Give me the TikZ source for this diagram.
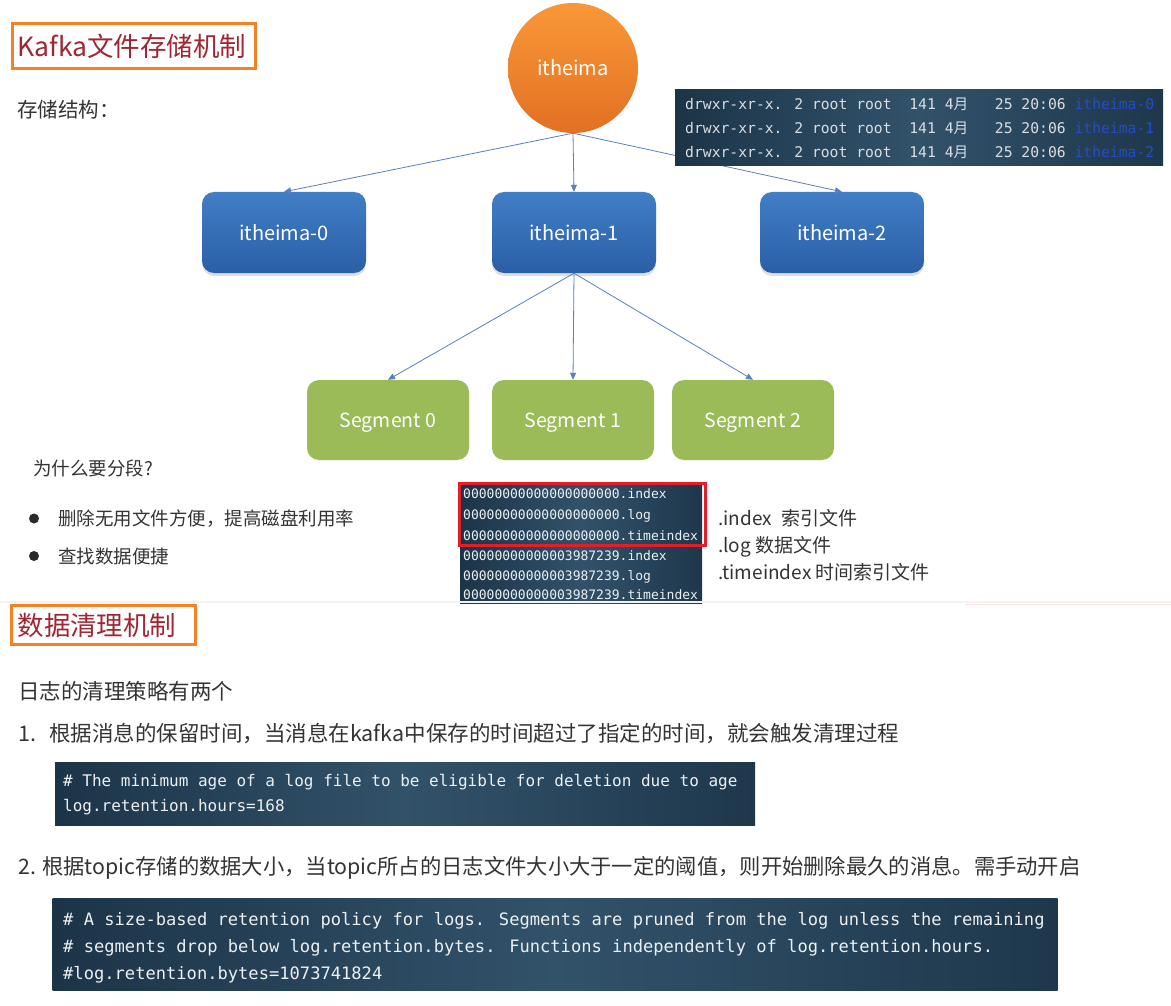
\documentclass[tikz,border=0pt]{standalone}
\usepackage{fontspec}
\setmainfont{Noto Sans CJK SC}
\newfontfamily\monofont{DejaVu Sans Mono}
\newfontfamily\cjk{Noto Sans CJK SC}
\usetikzlibrary{arrows.meta,shadows}
\definecolor{titlered}{RGB}{160,38,52}
\definecolor{titleorange}{RGB}{246,128,36}
\definecolor{bodytext}{RGB}{52,52,52}
\definecolor{circtop}{RGB}{249,152,56}
\definecolor{circbot}{RGB}{226,112,34}
\definecolor{bluetop}{RGB}{64,126,198}
\definecolor{bluebot}{RGB}{43,95,166}
\definecolor{segreen}{RGB}{155,187,89}
\definecolor{conncol}{RGB}{92,128,190}
\definecolor{paneldark}{RGB}{28,52,72}
\definecolor{panelmid}{RGB}{50,82,106}
\definecolor{termtext}{RGB}{218,222,226}
\definecolor{termblue}{RGB}{38,78,196}
\definecolor{codetext}{RGB}{236,240,242}
\definecolor{hlred}{RGB}{228,30,40}
\newcommand{\fsz}[1]{\fontsize{#1pt}{#1pt}\selectfont}
\begin{document}
\begin{tikzpicture}[x=1pt,y=-1pt,
  txt/.style={anchor=base west, inner sep=0pt, text=bodytext},
  mono/.style={anchor=base west, inner sep=0pt, font=\monofont},
  titlebox/.style={draw=titleorange, line width=3pt, fill=white, text=titlered, align=left, inner ysep=0pt},
  rootnode/.style={circle, minimum size=130pt, top color=circtop, bottom color=circbot, text=white, font=\fsz{20}, inner sep=0pt},
  partbox/.style={rounded corners=12pt, minimum width=164pt, minimum height=81pt, top color=bluetop, bottom color=bluebot, text=white, font=\fsz{20},
     drop shadow={opacity=0.25, shadow xshift=0pt, shadow yshift=-3pt}},
  segbox/.style={rounded corners=12pt, minimum width=162pt, minimum height=80pt, fill=segreen, text=white, font=\fsz{19.5},
     text height=15pt, text depth=1pt},
  conn/.style={draw=conncol, line width=0.8pt, -{Triangle[length=7pt,width=6pt]}},
  darkpanel/.style={left color=paneldark, right color=paneldark!90!panelmid, middle color=panelmid, inner sep=0pt},
  redbox/.style={draw=hlred, line width=3pt, inner sep=0pt}
]
\useasboundingbox[fill=white] (0,0) rectangle (1171,1006);

% ---------- slide 1 ----------
\node[titlebox, text width=233pt, inner xsep=5pt, minimum height=45pt] (t1) at (134,46) {\fsz{26.5}Kafka文件存储机制};
\node[txt] (struct) at (17,117.5) {\fsz{20.5}存储结构：};

\node[rootnode] (root) at (573,68) {itheima};
\node[partbox] (p0) at (284,232.5) {itheima-0};
\node[partbox] (p1) at (574,232.5) {itheima-1};
\node[partbox] (p2) at (842,232.5) {itheima-2};

\node[segbox] (s0) at (388,420) {Segment 0};
\node[segbox] (s1) at (573,420) {Segment 1};
\node[segbox] (s2) at (753,420) {Segment 2};

\draw[conn] (root.south) -- (p0.north);
\draw[conn] (root.south) -- (p1.north);
\draw[conn] (root.south) -- (p2.north);
\draw[conn] (p1.south) -- (s0.north);
\draw[conn] (p1.south) -- (s1.north);
\draw[conn] (p1.south) -- (s2.north);

% terminal listing
\node[darkpanel, minimum width=488pt, minimum height=76pt] (term) at (919,128) {};
\node[mono, text=termtext] (tl0) at (685,109.3) {\fsz{14.7}drwxr-xr-x. 2 root root~~141 4{\cjk 月}~~~25 20:06 \textcolor{termblue}{itheima-0}};
\node[mono, text=termtext] (tl1) at (685,133.3) {\fsz{14.7}drwxr-xr-x. 2 root root~~141 4{\cjk 月}~~~25 20:06 \textcolor{termblue}{itheima-1}};
\node[mono, text=termtext] (tl2) at (685,157.3) {\fsz{14.7}drwxr-xr-x. 2 root root~~141 4{\cjk 月}~~~25 20:06 \textcolor{termblue}{itheima-2}};

% why segment
\node[txt] (why) at (33,475) {\fsz{18.5}为什么要分段?};
\node[circle, fill=bodytext!80!black, minimum size=10pt, inner sep=0pt] (b1) at (34,518.5) {};
\node[circle, fill=bodytext!80!black, minimum size=10pt, inner sep=0pt] (b2) at (34,556) {};
\node[txt] (w1) at (58,525.5) {\fsz{18.5}删除无用文件方便，提高磁盘利用率};
\node[txt] (w2) at (58,563) {\fsz{18.5}查找数据便捷};

% segment file list
\node[darkpanel, minimum width=242pt, minimum height=120pt] (seglist) at (581,543) {};
\node[mono, text=codetext] (f1) at (463,498.7) {\fsz{13}00000000000000000000.index};
\node[mono, text=codetext] (f2) at (463,519.7) {\fsz{13}00000000000000000000.log};
\node[mono, text=codetext] (f3) at (463,540.7) {\fsz{13}00000000000000000000.timeindex};
\node[mono, text=codetext] (f4) at (463,560.7) {\fsz{13}00000000000003987239.index};
\node[mono, text=codetext] (f5) at (463,580.7) {\fsz{13}00000000000003987239.log};
\node[mono, text=codetext] (f6) at (463,599.7) {\fsz{13}00000000000003987239.timeindex};
\node[redbox, minimum width=246pt, minimum height=62pt] (hl) at (582.5,514.5) {};

\node[txt] (l1) at (718,525) {\fsz{19}.index\hspace{10pt}索引文件};
\node[txt] (l2) at (718,552.5) {\fsz{19}.log 数据文件};
\node[txt] (l3) at (718,579.5) {\fsz{19}.timeindex 时间索引文件};

% slide break
\draw[black!5, line width=2pt] (0,602) -- (1171,602);
\draw[red!12, line width=1pt] (965,604.5) -- (1171,604.5);

% ---------- slide 2 ----------
\node[titlebox, text width=172pt, inner xsep=6pt, minimum height=39pt] (t2) at (103.5,625) {\fsz{26.5}数据清理机制};
\node[txt] (intro) at (18,699) {\fsz{21.5}日志的清理策略有两个};
\node[txt] (r1) at (18,741) {\fsz{21.5}1.\hspace{13pt}根据消息的保留时间，当消息在kafka中保存的时间超过了指定的时间，就会触发清理过程};

\node[darkpanel, minimum width=700pt, minimum height=63pt] (code1) at (405,793.5) {};
\node[mono, text=codetext] (c11) at (63,786.8) {\fsz{16}\# The minimum age of a log file to be eligible for deletion due to age};
\node[mono, text=codetext] (c12) at (63,811.8) {\fsz{16}log.retention.hours=168};

\node[txt] (r2) at (18,874) {\fsz{21.3}2. 根据topic存储的数据大小，当topic所占的日志文件大小大于一定的阈值，则开始删除最久的消息。需手动开启};

\node[darkpanel, minimum width=1005pt, minimum height=92pt] (code2) at (555,944) {};
\node[mono, text=codetext] (c21) at (63,925.2) {\fsz{17.1}\# A size-based retention policy for logs. Segments are pruned from the log unless the remaining};
\node[mono, text=codetext] (c22) at (63,952.2) {\fsz{17.1}\# segments drop below log.retention.bytes. Functions independently of log.retention.hours.};
\node[mono, text=codetext] (c23) at (63,979.2) {\fsz{17.1}\#log.retention.bytes=1073741824};
\end{tikzpicture}
\end{document}
